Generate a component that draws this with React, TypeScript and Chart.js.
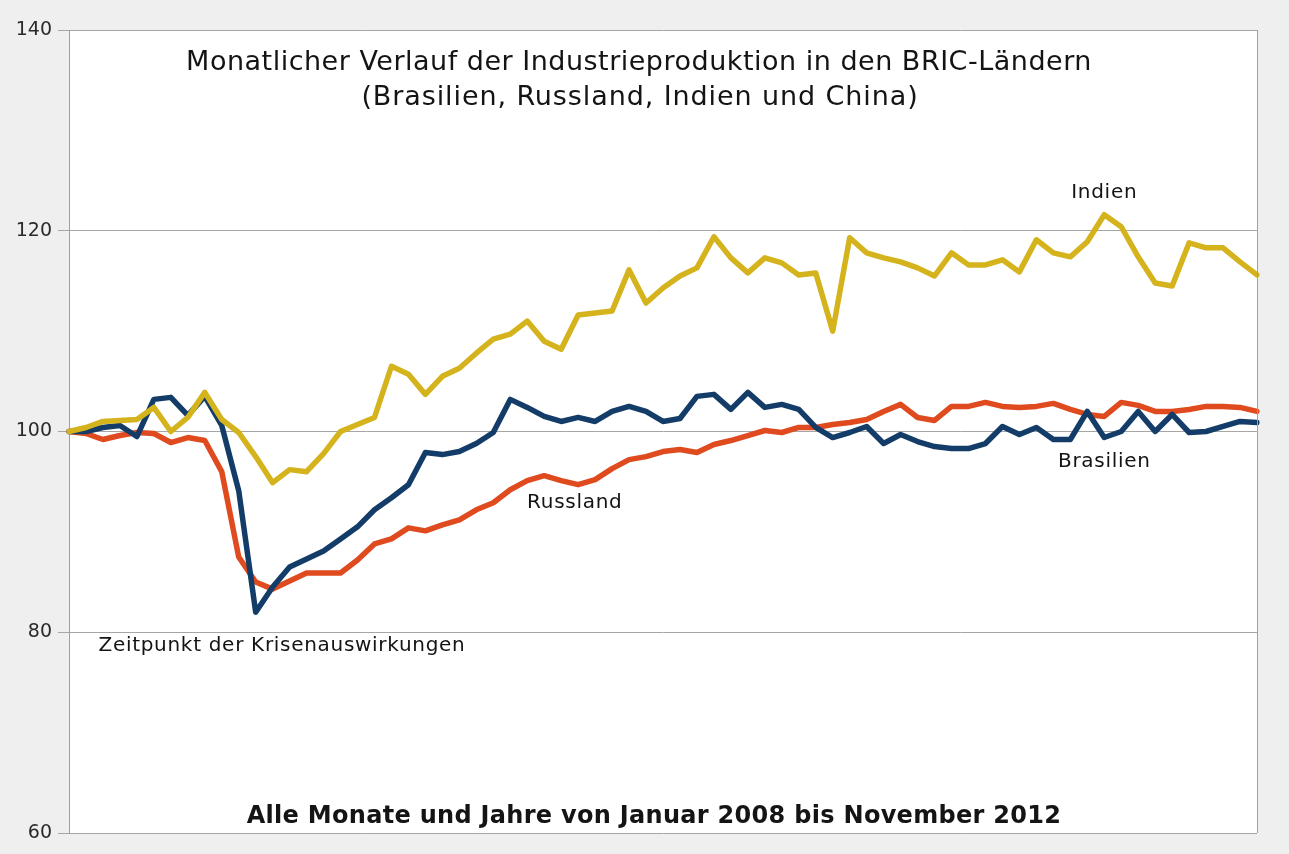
import React, { useEffect, useRef } from "react";
import { Chart, registerables } from "chart.js";

Chart.register(...registerables);

const months = [
  "Jan 2007", "Feb 2007", "Mär 2007", "Apr 2007", "Mai 2007", "Jun 2007", "Jul 2007", "Aug 2007", "Sep 2007", "Okt 2007", "Nov 2007", "Dez 2007",
  "Jan 2008", "Feb 2008", "Mär 2008", "Apr 2008", "Mai 2008", "Jun 2008", "Jul 2008", "Aug 2008", "Sep 2008", "Okt 2008", "Nov 2008", "Dez 2008",
  "Jan 2009", "Feb 2009", "Mär 2009", "Apr 2009", "Mai 2009", "Jun 2009", "Jul 2009", "Aug 2009", "Sep 2009", "Okt 2009", "Nov 2009", "Dez 2009",
  "Jan 2010", "Feb 2010", "Mär 2010", "Apr 2010", "Mai 2010", "Jun 2010", "Jul 2010", "Aug 2010", "Sep 2010", "Okt 2010", "Nov 2010", "Dez 2010",
  "Jan 2011", "Feb 2011", "Mär 2011", "Apr 2011", "Mai 2011", "Jun 2011", "Jul 2011", "Aug 2011", "Sep 2011", "Okt 2011", "Nov 2011", "Dez 2011",
  "Jan 2012", "Feb 2012", "Mär 2012", "Apr 2012", "Mai 2012", "Jun 2012", "Jul 2012", "Aug 2012", "Sep 2012", "Okt 2012", "Nov 2012",
];

const indien = [
  100.0, 100.4, 101.0, 101.1, 101.2, 102.4, 100.0, 101.4, 103.9, 101.2,
  99.9, 97.5, 94.9, 96.2, 96.0, 97.8, 100.0, 100.7, 101.4, 106.5,
  105.7, 103.7, 105.5, 106.3, 107.8, 109.2, 109.7, 111.0, 109.0, 108.2,
  111.6, 111.8, 112.0, 116.1, 112.8, 114.3, 115.5, 116.3, 119.4, 117.3,
  115.8, 117.3, 116.8, 115.6, 115.8, 110.0, 119.3, 117.8, 117.3, 116.9,
  116.3, 115.5, 117.8, 116.6, 116.6, 117.1, 115.9, 119.1, 117.8, 117.4,
  118.9, 121.6, 120.4, 117.4, 114.8, 114.5, 118.8, 118.3, 118.3, 116.9,
  115.6,
];

const brasilien = [
  100.0, 100.0, 100.4, 100.6, 99.5, 103.2, 103.4, 101.6, 103.5, 100.6,
  94.1, 82.0, 84.5, 86.5, 87.3, 88.1, 89.3, 90.5, 92.2, 93.4,
  94.7, 97.9, 97.7, 98.0, 98.8, 99.9, 103.2, 102.4, 101.5, 101.0,
  101.4, 101.0, 102.0, 102.5, 102.0, 101.0, 101.3, 103.5, 103.7, 102.2,
  103.9, 102.4, 102.7, 102.2, 100.4, 99.4, 99.9, 100.5, 98.8, 99.7,
  99.0, 98.5, 98.3, 98.3, 98.8, 100.5, 99.7, 100.4, 99.2, 99.2,
  102.0, 99.4, 100.0, 102.0, 100.0, 101.7, 99.9, 100.0, 100.5, 101.0,
  100.9,
];

const russland = [
  100.0, 99.8, 99.2, 99.6, 99.9, 99.8, 98.9, 99.4, 99.1, 96.0,
  87.5, 85.0, 84.3, 85.1, 85.9, 85.9, 85.9, 87.2, 88.8, 89.3,
  90.4, 90.1, 90.7, 91.2, 92.2, 92.9, 94.2, 95.1, 95.6, 95.1,
  94.7, 95.2, 96.3, 97.2, 97.5, 98.0, 98.2, 97.9, 98.7, 99.1,
  99.6, 100.1, 99.9, 100.4, 100.4, 100.7, 100.9, 101.2, 102.0, 102.7,
  101.4, 101.1, 102.5, 102.5, 102.9, 102.5, 102.4, 102.5, 102.8, 102.2,
  101.7, 101.5, 102.9, 102.6, 102.0, 102.0, 102.2, 102.5, 102.5, 102.4,
  102.0,
];

const yMin = 60;
const yMax = 140;
const yStep = 20;

const titleLines = [
  "Monatlicher Verlauf der Industrieproduktion in den BRIC-Ländern",
  "(Brasilien, Russland, Indien und China)",
];
const footText = "Alle Monate und Jahre von Januar 2008 bis November 2012";

// annotation labels: [text, category index, value]
const seriesLabels: [string, number, number][] = [
  ["Indien", 61, 123.8],
  ["Russland", 29.8, 92.9],
  ["Brasilien", 61.0, 97.0],
  ["Zeitpunkt der Krisenauswirkungen", 12.55, 78.7],
];

const FONT = '"DejaVu Sans", "Noto Sans", sans-serif';

const decorPlugin = {
  id: "decor",
  beforeDraw(chart: any) {
    const { ctx, chartArea } = chart;
    ctx.save();
    ctx.fillStyle = "#efefef";
    ctx.fillRect(0, 0, chart.width, chart.height);
    ctx.fillStyle = "#ffffff";
    ctx.fillRect(chartArea.left, chartArea.top, chartArea.right - chartArea.left, chartArea.bottom - chartArea.top);
    ctx.restore();
  },
  afterDraw(chart: any) {
    const { ctx, chartArea, scales } = chart;
    const xs = scales.x;
    const ys = scales.y;
    ctx.save();
    ctx.strokeStyle = "#a0a0a0";
    ctx.lineWidth = 1;
    ctx.beginPath();
    ctx.moveTo(Math.round(chartArea.right) + 0.5, chartArea.top);
    ctx.lineTo(Math.round(chartArea.right) + 0.5, chartArea.bottom);
    ctx.stroke();

    ctx.fillStyle = "#141414";
    ctx.textAlign = "center";
    ctx.textBaseline = "middle";
    const cx = (chartArea.left + chartArea.right) / 2;
    ctx.font = "27px " + FONT;
    (ctx as any).letterSpacing = "0.5px";
    ctx.fillText(titleLines[0], cx - 24, chartArea.top + 33);
    (ctx as any).letterSpacing = "0.9px";
    ctx.fillText(titleLines[1], cx - 23, chartArea.top + 68);

    ctx.font = "bold 24px " + FONT;
    (ctx as any).letterSpacing = "0.3px";
    ctx.fillText(footText, cx - 9, chartArea.bottom - 16);

    ctx.font = "20px " + FONT;
    (ctx as any).letterSpacing = "0.7px";
    for (const [t, xi, v] of seriesLabels) {
      const px = xs.getPixelForValue(xi);
      const py = ys.getPixelForValue(v);
      ctx.fillText(t, px, py);
    }
    ctx.restore();
  },
};

export default function App() {
  const ref = useRef<HTMLCanvasElement | null>(null);

  useEffect(() => {
    document.body.style.margin = "0";
    document.body.style.background = "#efefef";
    const canvas = ref.current;
    if (!canvas) return;
    Chart.defaults.font.family = FONT;
    const chart = new Chart(canvas, {
      type: "line",
      data: {
        labels: months,
        datasets: [
          {
            label: "Indien",
            data: indien,
            borderColor: "#d4b31c",
            borderWidth: 5.5,
            pointRadius: 0,
            tension: 0,
            fill: false,
            borderJoinStyle: "round",
            borderCapStyle: "round",
          },
          {
            label: "Brasilien",
            data: brasilien,
            borderColor: "#133d68",
            borderWidth: 5.5,
            pointRadius: 0,
            tension: 0,
            fill: false,
            borderJoinStyle: "round",
            borderCapStyle: "round",
          },
          {
            label: "Russland",
            data: russland,
            borderColor: "#df4a1e",
            borderWidth: 5.5,
            pointRadius: 0,
            tension: 0,
            fill: false,
            borderJoinStyle: "round",
            borderCapStyle: "round",
          },
        ],
      },
      options: {
        responsive: false,
        animation: false,
        devicePixelRatio: 1,
        layout: { padding: { left: 0, right: 32, top: 30, bottom: 21 } },
        plugins: {
          legend: { display: false },
          tooltip: { enabled: false },
          title: { display: false },
        },
        scales: {
          x: {
            type: "category",
            display: false,
            offset: false,
          },
          y: {
            min: yMin,
            max: yMax,
            ticks: {
              stepSize: yStep,
              color: "#2a2a2a",
              font: { size: 19, family: FONT },
              padding: 6,
            },
            grid: {
              color: "#a6a6a6",
              lineWidth: 1,
              tickLength: 11,
              drawTicks: true,
            },
            border: { display: true, color: "#a0a0a0" },
            afterFit(scale: any) {
              scale.width = 69;
            },
          },
        },
      },
      plugins: [decorPlugin],
    });
    return () => chart.destroy();
  }, []);

  return (
    <div style={{ width: 1289, height: 854, background: "#efefef" }}>
      <canvas ref={ref} width={1289} height={854} style={{ display: "block" }} />
    </div>
  );
}
